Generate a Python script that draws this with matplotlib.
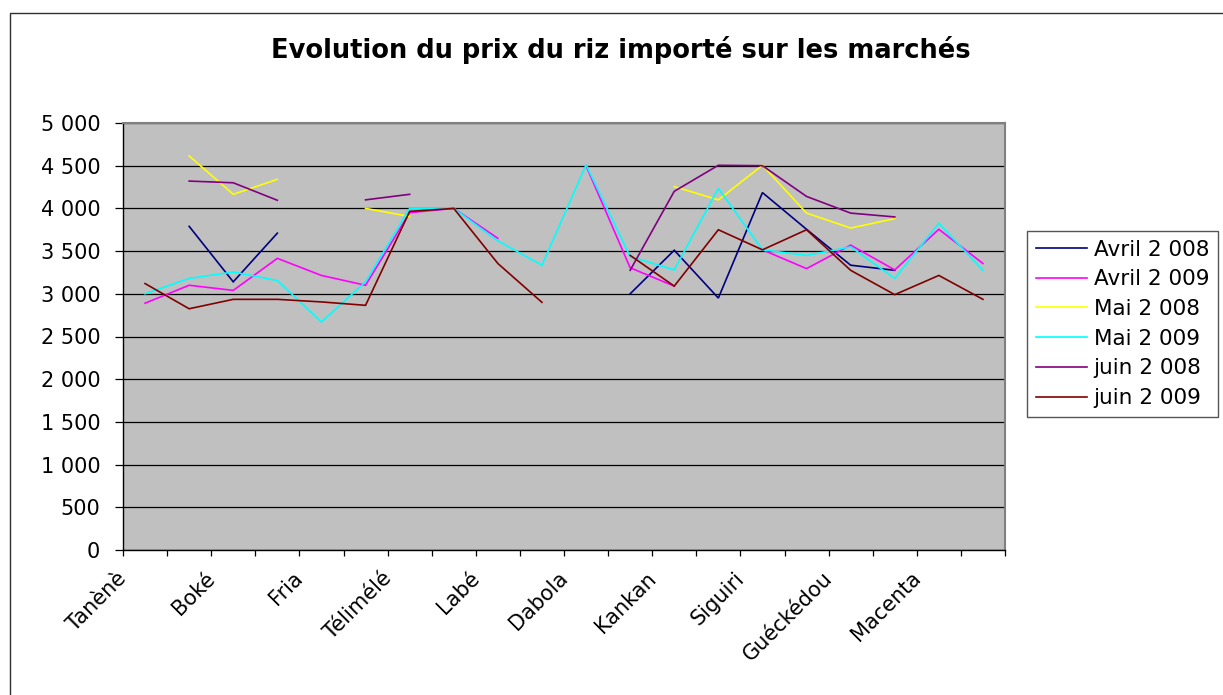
import numpy as np
import matplotlib
matplotlib.use("Agg")
import matplotlib.pyplot as plt
from matplotlib.patches import Rectangle
from matplotlib.ticker import FuncFormatter, MultipleLocator

nan = np.nan

# ---- data -------------------------------------------------------------
title = "Evolution du prix du riz importé sur les marchés"
# 20 categories on the axis, only every second one is labelled
n_categories = 20
market_labels = ["Tanènè", "Boké", "Fria", "Télimélé", "Labé",
                 "Dabola", "Kankan", "Siguiri", "Guéckédou", "Macenta"]

series_names = ["Avril 2 008", "Avril 2 009", "Mai 2 008",
                "Mai 2 009", "juin 2 008", "juin 2 009"]

avril_2008 = [nan, 3790, 3140, 3710, nan, nan, nan, nan, nan, nan,
              nan, 3000, 3510, 2950, 4185, 3755, 3335, 3275, nan, nan]
avril_2009 = [2890, 3100, 3040, 3415, 3215, 3100, 3950, 4000, 3650, nan,
              4500, 3305, 3090, nan, 3515, 3295, 3570, 3280, 3755, 3355]
mai_2008 = [nan, 4615, 4165, 4340, nan, 4000, 3905, nan, nan, nan,
            nan, nan, 4255, 4100, 4505, 3945, 3770, 3880, nan, nan]
mai_2009 = [3000, 3180, 3255, 3155, 2670, 3140, 4000, 4000, 3620, 3335,
            4510, 3435, 3280, 4235, 3515, 3450, 3550, 3180, 3825, 3275]
juin_2008 = [nan, 4320, 4300, 4095, nan, 4100, 4165, nan, nan, nan,
             nan, 3275, 4200, 4505, 4500, 4140, 3945, 3900, nan, nan]
juin_2009 = [3120, 2825, 2935, 2935, 2905, 2865, 3965, 4000, 3355, 2900,
             nan, 3450, 3090, 3750, 3515, 3750, 3275, 2990, 3215, 2935]

series_values = [avril_2008, avril_2009, mai_2008, mai_2009, juin_2008, juin_2009]
series_colors = ["#000080", "#FF00FF", "#FFFF00", "#00FFFF", "#800080", "#800000"]

# ---- figure -----------------------------------------------------------
W, H = 1223, 695
fig = plt.figure(figsize=(W / 100, H / 100), dpi=100)
fig.patch.set_facecolor("white")

# outer chart border (extends past the cropped right / bottom edges)
fig.patches.append(Rectangle((10 / W, -0.1), 1.2, 1.1 - 13 / H,
                             transform=fig.transFigure, fill=False,
                             edgecolor="#303030", linewidth=1.0, clip_on=False))

ax_left, ax_right, ax_top, ax_bottom = 123, 1005, 123, 550
ax = fig.add_axes([ax_left / W, 1 - ax_bottom / H,
                   (ax_right - ax_left) / W, (ax_bottom - ax_top) / H])
ax.set_facecolor("#C0C0C0")

x = np.arange(n_categories)
for name, vals, col in zip(series_names, series_values, series_colors):
    ax.plot(x, np.array(vals, dtype=float), color=col, linewidth=1.2,
            label=name, solid_joinstyle="miter")

ax.set_xlim(-0.5, n_categories - 0.5)
ax.set_ylim(0, 5000)

ax.yaxis.set_major_locator(MultipleLocator(500))
ax.yaxis.set_major_formatter(FuncFormatter(lambda v, p: f"{int(v):,}".replace(",", " ")))
ax.grid(axis="y", color="black", linewidth=0.9)
ax.set_axisbelow(True)

# tick marks on category boundaries, labels every second category
boundaries = np.arange(n_categories + 1) - 0.5
ax.set_xticks(boundaries)
ax.set_xticklabels([""] * len(boundaries))
label_pos = boundaries[0:2 * len(market_labels):2] + 0.17
ax.set_xticks(label_pos, minor=True)
ax.set_xticklabels(market_labels, minor=True, rotation=45, ha="right",
                   va="top", rotation_mode="default")

ax.tick_params(axis="x", which="major", direction="out", length=4.5,
               width=0.9, colors="black")
ax.tick_params(axis="x", which="minor", length=0, pad=13, labelsize=15,
               colors="black")
ax.tick_params(axis="y", direction="out", length=5.8, width=0.9, pad=10.5,
               labelsize=15, colors="black")

for s in ["left", "bottom"]:
    ax.spines[s].set_color("black")
    ax.spines[s].set_linewidth(1.0)
for s in ["top", "right"]:
    ax.spines[s].set_color("#808080")
    ax.spines[s].set_linewidth(1.5)

fig.text(621 / W, 1 - 50 / H, title, ha="center", va="center",
         fontsize=18.5, fontweight="bold")

leg = fig.legend(loc="upper left", bbox_to_anchor=(1027 / W, 1 - 231 / H),
                 bbox_transform=fig.transFigure, fontsize=15.5, frameon=True,
                 fancybox=False, framealpha=1, edgecolor="#555555",
                 borderaxespad=0, borderpad=0.4, handlelength=2.4,
                 handletextpad=0.3, labelspacing=0.45)
leg.get_frame().set_linewidth(1.0)
for line in leg.get_lines():
    line.set_linewidth(1.2)

fig.savefig("out.png", dpi=100)
